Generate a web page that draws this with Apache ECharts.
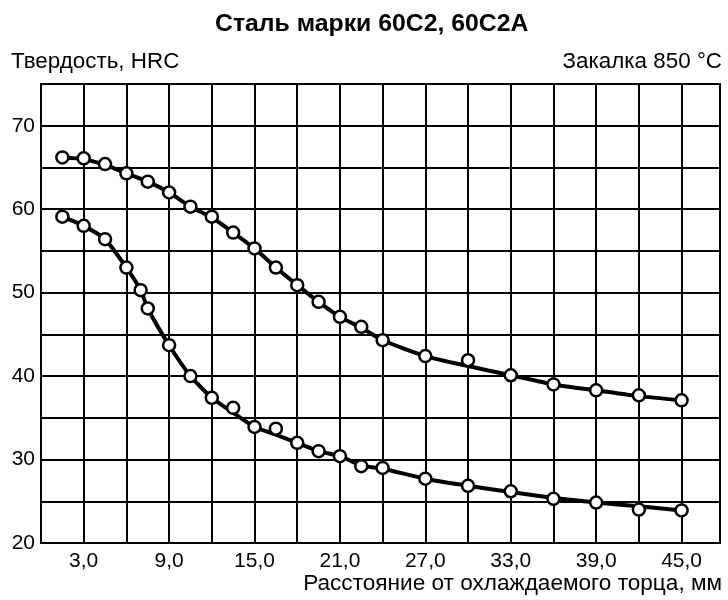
<!DOCTYPE html>
<html>
<head>
<meta charset="utf-8">
<script src="https://cdn.jsdelivr.net/npm/echarts@6/dist/echarts.min.js"></script>
<style>html,body{margin:0;padding:0;background:#fff;}#c{width:728px;height:600px;}</style>
</head>
<body>
<div id="c"></div>
<script>
// Distance from quenched end, mm
const xUpper = [1.5, 3, 4.5, 6, 7.5, 9, 10.5, 12, 13.5, 15, 16.5, 18, 19.5, 21, 22.5, 24, 27, 30, 33, 36, 39, 42, 45];
// Hardness HRC, upper band boundary (markers)
const hardUpper = [66.2, 66.1, 65.4, 64.3, 63.3, 62.0, 60.3, 59.1, 57.2, 55.3, 53.0, 50.9, 48.9, 47.1, 45.9, 44.3, 42.4, 41.9, 40.1, 39.0, 38.3, 37.7, 37.1];
// Hardness along the drawn upper curve
const curveUpper = [66.2, 66.0, 65.3, 64.3, 63.3, 62.0, 60.3, 59.0, 57.2, 55.3, 53.0, 50.9, 48.9, 47.1, 45.8, 44.3, 42.4, 41.2, 40.1, 39.0, 38.3, 37.6, 37.1];

const xLower = [1.5, 3, 4.5, 6, 7, 7.5, 9, 10.5, 12, 13.5, 15, 16.5, 18, 19.5, 21, 22.5, 24, 27, 30, 33, 36, 39, 42, 45];
// Hardness HRC, lower band boundary (markers)
const hardLower = [59.1, 58.0, 56.4, 53.0, 50.3, 48.1, 43.7, 40.0, 37.4, 36.2, 33.9, 33.7, 32.0, 31.0, 30.4, 29.2, 29.0, 27.7, 26.85, 26.2, 25.3, 24.85, 24.0, 23.9];
// Hardness along the drawn lower curve
const curveLower = [59.1, 58.0, 56.4, 53.0, 50.3, 48.1, 43.7, 40.0, 37.4, 35.6, 33.9, 33.0, 32.0, 31.0, 30.4, 29.3, 28.9, 27.7, 26.85, 26.1, 25.4, 24.85, 24.4, 23.9];

const xTickLabels = [3, 9, 15, 21, 27, 33, 39, 45];
const yTickLabels = [20, 30, 40, 50, 60, 70];

const titleText = 'Сталь марки 60С2, 60С2А';
const yName = 'Твердость, HRC';
const noteText = 'Закалка 850 °С';
const xName = 'Расстояние от охлаждаемого торца, мм';

const pair = (xs, ys) => xs.map((x, i) => [x, ys[i]]);
const FONT = '"Liberation Sans", Arial, sans-serif';

const chart = echarts.init(document.getElementById('c'), null, {renderer: 'canvas'});
chart.setOption({
  backgroundColor: '#fff',
  animation: false,
  textStyle: {fontFamily: FONT, color: '#000'},
  title: [
    {text: titleText, left: 215, top: 12, padding: 0, textStyle: {fontFamily: FONT, fontSize: 24.8, fontWeight: 'bold', color: '#000'}},
    {text: yName, left: 11, top: 51, padding: 0, textStyle: {fontFamily: FONT, fontSize: 22.4, fontWeight: 'normal', color: '#000'}},
    {text: noteText, right: 6, top: 51, padding: 0, textStyle: {fontFamily: FONT, fontSize: 22.4, fontWeight: 'normal', color: '#000'}},
    {text: xName, right: 6, top: 572, padding: 0, textStyle: {fontFamily: FONT, fontSize: 22.6, fontWeight: 'normal', color: '#000'}}
  ],
  grid: {left: 41, right: 8, top: 84, bottom: 57, show: true, borderColor: '#000', borderWidth: 2, backgroundColor: 'transparent'},
  xAxis: {
    type: 'value', min: 0, max: 47.7, interval: 3,
    axisLine: {show: true, lineStyle: {color: '#000', width: 2}},
    axisTick: {show: false},
    splitLine: {show: true, lineStyle: {color: '#000', width: 2}},
    axisLabel: {
      color: '#000', fontSize: 21, fontFamily: FONT, margin: 8, showMaxLabel: false,
      formatter: v => xTickLabels.includes(v) ? v.toFixed(1).replace('.', ',') : ''
    }
  },
  yAxis: {
    type: 'value', min: 20, max: 75, interval: 5,
    axisLine: {show: true, lineStyle: {color: '#000', width: 2}},
    axisTick: {show: false},
    splitLine: {show: true, lineStyle: {color: '#000', width: 2}},
    axisLabel: {
      color: '#000', fontSize: 21, fontFamily: FONT, margin: 6,
      formatter: v => yTickLabels.includes(v) ? String(v) : ''
    }
  },
  series: [
    {type: 'line', data: pair(xUpper, curveUpper), smooth: 0.2, symbol: 'none', lineStyle: {color: '#000', width: 4}, z: 2},
    {type: 'line', data: pair(xLower, curveLower), smooth: 0.2, symbol: 'none', lineStyle: {color: '#000', width: 4}, z: 2},
    {type: 'scatter', data: pair(xUpper, hardUpper), symbol: 'circle', symbolSize: 12, itemStyle: {color: '#fff', borderColor: '#000', borderWidth: 2.5, opacity: 1}, z: 3},
    {type: 'scatter', data: pair(xLower, hardLower), symbol: 'circle', symbolSize: 12, itemStyle: {color: '#fff', borderColor: '#000', borderWidth: 2.5, opacity: 1}, z: 3}
  ]
});
</script>
</body>
</html>
